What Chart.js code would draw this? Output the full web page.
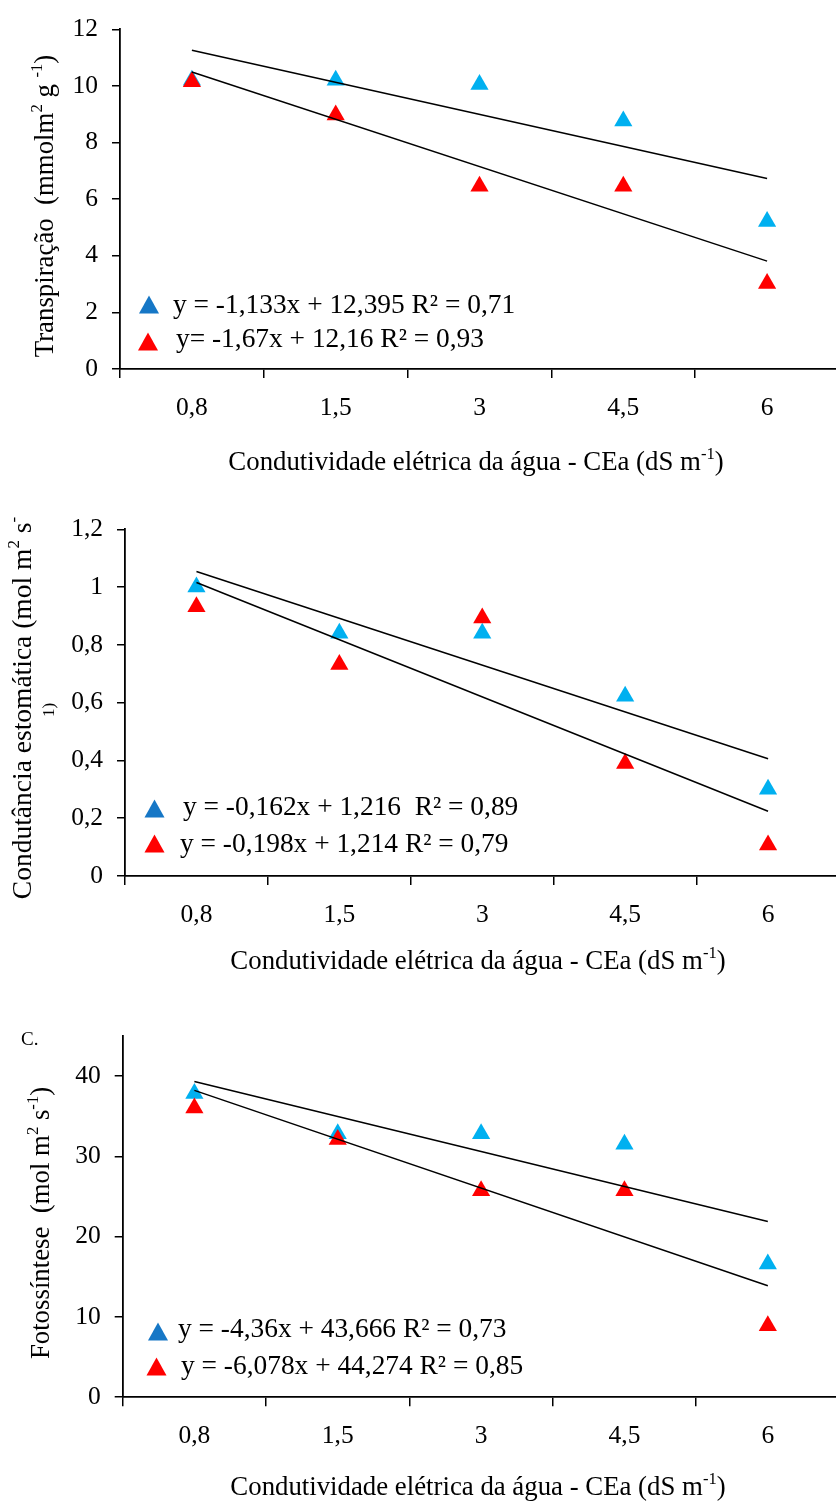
<!DOCTYPE html>
<html>
<head>
<meta charset="utf-8">
<script src="https://cdn.jsdelivr.net/npm/chart.js"></script>
<style>
  html, body { margin: 0; padding: 0; background: #fff; overflow: hidden; }
  #page { position: relative; width: 836px; height: 1502px; overflow: hidden; }
  canvas { position: absolute; left: 0; }
</style>
</head>
<body>
<div id="page">
  <canvas id="c1" width="850" height="500" style="top:0"></canvas>
  <canvas id="c2" width="850" height="500" style="top:500px"></canvas>
  <canvas id="c3" width="850" height="502" style="top:1000px"></canvas>
</div>
<script>
// categories (CEa, dS m-1)
var labels = ['0,8', '1,5', '3', '4,5', '6'];

// Transpiração
var transpBlue = [10.2, 10.2, 10.05, 8.76, 5.21];
var transpRed = [10.15, 8.97, 6.46, 6.46, 3.02];
var transpTrendBlue = [11.26, null, null, null, 6.73];
var transpTrendRed = [10.49, null, null, null, 3.81];

// Condutância estomática
var condBlue = [1.0, 0.84, 0.84, 0.622, 0.30];
var condRed = [0.932, 0.732, 0.893, 0.389, 0.107];
var condTrendBlue = [1.054, null, null, null, 0.406];
var condTrendRed = [1.016, null, null, null, 0.224];

// Fotossíntese
var fotoBlue = [37.8, 32.8, 32.8, 31.5, 16.6];
var fotoRed = [36.0, 32.1, 25.7, 25.7, 8.9];
var fotoTrendBlue = [39.31, null, null, null, 21.87];
var fotoTrendRed = [38.20, null, null, null, 13.88];

var FONT = 'Liberation Serif';
var BLUE = '#00B0F0';
var RED = '#FF0000';
var LEG_BLUE = '#1677C6';

// draw text made of pieces, some of them superscript
function rich(ctx, parts, x, y, size, rot, align) {
  ctx.save();
  ctx.translate(x, y);
  ctx.rotate(rot || 0);
  ctx.fillStyle = '#000';
  ctx.textBaseline = 'middle';
  ctx.textAlign = 'left';
  var w = 0;
  parts.forEach(function(p) {
    ctx.font = (p[1] ? size * 0.62 : size) + 'px "' + FONT + '"';
    p.w = ctx.measureText(p[0]).width;
    w += p.w;
  });
  var cx = align === 'left' ? 0 : -w / 2;
  parts.forEach(function(p) {
    ctx.font = (p[1] ? size * 0.62 : size) + 'px "' + FONT + '"';
    ctx.fillText(p[0], cx, p[1] ? -size * 0.33 : 0);
    cx += p.w;
  });
  ctx.restore();
}

function tri(ctx, x, y, color) {
  ctx.save();
  ctx.fillStyle = color;
  ctx.beginPath();
  ctx.moveTo(x, y - 9.5);
  ctx.lineTo(x + 10, y + 8.5);
  ctx.lineTo(x - 10, y + 8.5);
  ctx.closePath();
  ctx.fill();
  ctx.restore();
}

function textPlugin(t) {
  return {
    id: 'texts',
    afterDraw: function(chart) {
      var ctx = chart.ctx;
      t.yTitle.forEach(function(l) { rich(ctx, l.parts, l.x, l.y, l.size || 26.8, -Math.PI / 2); });
      rich(ctx, t.xTitle.parts, t.xTitle.x, t.xTitle.y, 26.8, 0);
      t.legend.forEach(function(l) {
        tri(ctx, l.tx, l.ty, l.color);
        rich(ctx, [[l.text, 0]], l.x, l.y, 27.4, 0, 'left');
      });
      if (t.tag) rich(ctx, [[t.tag.text, 0]], t.tag.x, t.tag.y, 19, 0, 'left');
    }
  };
}

function fmt(v) {
  return String(Math.round(v * 10) / 10).replace('.', ',');
}

function makeChart(id, c) {
  var tickFont = { family: FONT, size: 25.5 };
  return new Chart(document.getElementById(id), {
    type: 'line',
    data: {
      labels: labels,
      datasets: [
        { data: c.trendBlue, borderColor: '#000', borderWidth: 1.5, pointRadius: 0, spanGaps: true, tension: 0, order: 0 },
        { data: c.trendRed, borderColor: '#000', borderWidth: 1.5, pointRadius: 0, spanGaps: true, tension: 0, order: 0 },
        { data: c.red, showLine: false, pointStyle: 'triangle', pointRadius: 10.5,
          pointBackgroundColor: RED, pointBorderColor: RED, pointBorderWidth: 0, order: 1 },
        { data: c.blue, showLine: false, pointStyle: 'triangle', pointRadius: 10.5,
          pointBackgroundColor: BLUE, pointBorderColor: BLUE, pointBorderWidth: 0, order: 2 }
      ]
    },
    options: {
      responsive: false,
      animation: false,
      events: [],
      layout: { padding: { top: c.top, right: 850 - c.right, bottom: 0, left: 0 } },
      plugins: { legend: { display: false }, tooltip: { enabled: false } },
      scales: {
        x: {
          offset: true,
          grid: { offset: true, drawOnChartArea: false, drawTicks: true, tickLength: 9, color: '#000', lineWidth: 1.5 },
          border: { color: '#000', width: 1.8 },
          ticks: { font: tickFont, color: '#000', padding: 15, maxRotation: 0, autoSkip: false },
          afterFit: function(s) { s.height = c.xh; }
        },
        y: {
          min: 0,
          max: c.max,
          grid: { drawOnChartArea: false, drawTicks: true, tickLength: 8, color: '#000', lineWidth: 1.5 },
          border: { color: '#000', width: 1.8 },
          ticks: { font: tickFont, color: '#000', padding: 14, stepSize: c.step, callback: fmt },
          afterBuildTicks: function(s) {
            s.ticks = s.ticks.filter(function(t) { return Math.abs(t.value / c.step - Math.round(t.value / c.step)) < 1e-6; });
          },
          afterFit: function(s) { s.width = c.left; }
        }
      }
    },
    plugins: [textPlugin(c.texts)]
  });
}

var xTitleParts = [['Condutividade elétrica da água - CEa (dS m', 0], ['-1', 1], [')', 0]];

makeChart('c1', {
  blue: transpBlue, red: transpRed, trendBlue: transpTrendBlue, trendRed: transpTrendRed,
  max: 12, step: 2, top: 24, left: 120, right: 839, xh: 500 - 369,
  texts: {
    yTitle: [{ parts: [['Transpiração  (mmolm', 0], ['2', 1], [' g ', 0], ['-1', 1], [')', 0]], x: 46, y: 206 }],
    xTitle: { parts: xTitleParts, x: 476, y: 463 },
    legend: [
      { color: LEG_BLUE, tx: 149, ty: 305, text: 'y = -1,133x + 12,395 R² = 0,71', x: 173, y: 306 },
      { color: RED, tx: 148, ty: 342, text: 'y= -1,67x + 12,16 R² = 0,93', x: 176, y: 340 }
    ]
  }
});

makeChart('c2', {
  blue: condBlue, red: condRed, trendBlue: condTrendBlue, trendRed: condTrendRed,
  max: 1.2, step: 0.2, top: 21.7, left: 125, right: 845, xh: 500 - 376,
  texts: {
    yTitle: [
      { parts: [['Condutância estomática (mol m', 0], ['2', 1], [' s', 0], ['-', 1]], x: 24, y: 208, size: 27.5 },
      { parts: [['1)', 0]], x: 50, y: 210, size: 17 }
    ],
    xTitle: { parts: xTitleParts, x: 478, y: 462 },
    legend: [
      { color: LEG_BLUE, tx: 154.5, ty: 309, text: 'y = -0,162x + 1,216  R² = 0,89', x: 183, y: 308 },
      { color: RED, tx: 154.5, ty: 344, text: 'y = -0,198x + 1,214 R² = 0,79', x: 180, y: 345 }
    ]
  }
});

makeChart('c3', {
  blue: fotoBlue, red: fotoRed, trendBlue: fotoTrendBlue, trendRed: fotoTrendRed,
  max: 45, step: 10, top: 35.8, left: 122.7, right: 842, xh: 502 - 397.2,
  texts: {
    yTitle: [{ parts: [['Fotossíntese  (mol m', 0], ['2', 1], [' s', 0], ['-1', 1], [')', 0]], x: 42, y: 223 }],
    xTitle: { parts: xTitleParts, x: 478, y: 488 },
    legend: [
      { color: LEG_BLUE, tx: 158, ty: 332, text: 'y = -4,36x + 43,666 R² = 0,73', x: 178, y: 330 },
      { color: RED, tx: 156.5, ty: 367, text: 'y = -6,078x + 44,274 R² = 0,85', x: 181, y: 367 }
    ],
    tag: { text: 'C.', x: 21, y: 40 }
  }
});
</script>
</body>
</html>
